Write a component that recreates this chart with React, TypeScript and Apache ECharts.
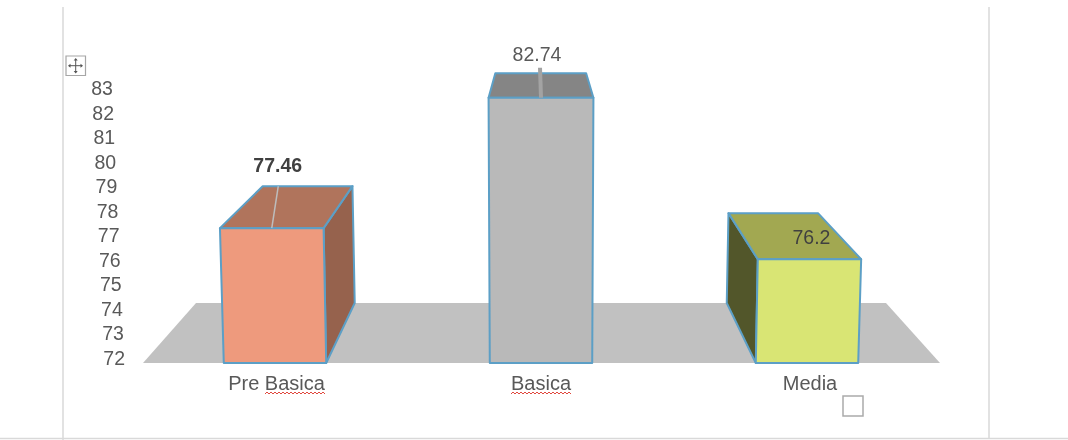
import React, { useEffect, useRef } from "react";
import * as echarts from "echarts";

const categories = ["Pre Basica", "Basica", "Media"];
const values = [77.46, 82.74, 76.2];
const yMin = 72;
const yMax = 83;

const frontColors = ["#EE9A7D", "#B9B9B9", "#D9E574"];
const topColors = ["#B0745C", "#858585", "#A2A851"];
const sideColors = ["#96624D", "#6E6E6E", "#52562A"];
const labelWeights = ["bold", "normal", "normal"];
const labelColors = ["#404040", "#595959", "#404040"];
const labelOffsets = [[6, -63], [-4, -44], [2, -22]];
const leaderOffsets = [[6.5, -42], [-1, -30], null];
const leaderWidths = [1.5, 4, 0];
const categoryPadLeft = [3, 0, 6];

const FONT = '"Liberation Sans", Arial, sans-serif';
const FONT_SIZE = 19.5;
const BORDER = "#5C9FC6";
const VP_X = 539;
const VP_Y = -85;
const DEPTH = 0.866;
const LEAN_X = 541;
const LEAN = 9e-5;

const back = (p: number[]) => [VP_X + DEPTH * (p[0] - VP_X), VP_Y + DEPTH * (p[1] - VP_Y)];
const lean = (x: number, h: number) => LEAN_X + (x - LEAN_X) * (1 + LEAN * h);

const renderBar = (params: any, api: any) => {
  const i = api.value(0);
  const value = api.value(1);
  const [cx, y0] = api.coord([i, yMin]);
  const [, y1] = api.coord([i, value]);
  const half = (api.size([1, 0])[0] * 0.385) / 2;
  const h = y0 - y1;
  const bl = [cx - half, y0];
  const br = [cx + half, y0];
  const tl = [lean(cx - half, h), y1];
  const tr = [lean(cx + half, h), y1];
  const face = (points: number[][], fill: string) => ({
    type: "polygon",
    shape: { points },
    style: { fill, stroke: BORDER, lineWidth: 2, lineJoin: "round" },
  });
  const children: any[] = [];
  if (br[0] < VP_X - half) children.push(face([br, back(br), back(tr), tr], sideColors[i]));
  if (bl[0] > VP_X + half) children.push(face([bl, back(bl), back(tl), tl], sideColors[i]));
  children.push(face([tl, tr, back(tr), back(tl)], topColors[i]));
  children.push(face([bl, br, tr, tl], frontColors[i]));
  const topCx = (tl[0] + tr[0]) / 2;
  const leader = leaderOffsets[i];
  if (leader) {
    children.push({
      type: "line",
      shape: { x1: topCx, y1: y1, x2: topCx + leader[0], y2: y1 + leader[1] },
      style: { stroke: i === 0 ? "#BDBDBD" : "#A3A3A3", lineWidth: leaderWidths[i] },
    });
  }
  children.push({
    type: "text",
    style: {
      text: String(value),
      x: topCx + labelOffsets[i][0],
      y: y1 + labelOffsets[i][1],
      align: "center",
      verticalAlign: "middle",
      fontFamily: FONT,
      fontSize: FONT_SIZE,
      fontWeight: labelWeights[i],
      fill: labelColors[i],
    },
  });
  return { type: "group", children };
};

const squiggle = (x1: number, x2: number, y: number) => {
  const pts: number[][] = [];
  let up = false;
  for (let x = x1; x <= x2; x += 2) {
    pts.push([x, y + (up ? 0 : 2)]);
    up = !up;
  }
  return {
    type: "polyline",
    shape: { points: pts },
    style: { stroke: "#E0483E", lineWidth: 1, fill: "none" },
  };
};

const rule = (x1: number, y1: number, x2: number, y2: number, stroke = "#D9D9D9", lineWidth = 1.5) => ({
  type: "line",
  shape: { x1, y1, x2, y2 },
  style: { stroke, lineWidth },
});

const arrow = (points: number[][]) => ({
  type: "polygon",
  shape: { points },
  style: { fill: "#555555" },
});

const tickRich: Record<string, any> = {};
for (let v = yMin; v <= yMax; v++) {
  const n = v - yMin;
  tickRich["t" + v] = {
    fontFamily: FONT,
    fontSize: FONT_SIZE,
    color: "#595959",
    padding: [0, n * 1.1, 2 * (5 - n * 0.15), 0],
  };
}

const categoryRich: Record<string, any> = {};
categories.forEach((c, i) => {
  categoryRich["c" + i] = {
    fontFamily: FONT,
    fontSize: 20,
    color: "#595959",
    padding: [0, 0, 0, categoryPadLeft[i]],
  };
});

const option = {
  animation: false,
  backgroundColor: "#FFFFFF",
  graphic: [
    rule(63, 7, 63, 440),
    rule(989, 7, 989, 438),
    rule(0, 438.5, 1068, 438.5),
    {
      type: "polygon",
      z: 0,
      shape: { points: [[143, 363], [940, 363], [886, 303], [196, 303]] },
      style: { fill: "#C1C1C1" },
    },
    { type: "rect", shape: { x: 66, y: 56, width: 19.5, height: 19.5 }, style: { fill: "#FFFFFF", stroke: "#A6A6A6", lineWidth: 1.2 } },
    rule(69, 65.7, 82, 65.7, "#555555", 1),
    rule(75.7, 59, 75.7, 72.5, "#555555", 1),
    arrow([[75.7, 58], [73.7, 60.5], [77.7, 60.5]]),
    arrow([[75.7, 73.5], [73.7, 71], [77.7, 71]]),
    arrow([[68, 65.7], [70.5, 63.7], [70.5, 67.7]]),
    arrow([[83, 65.7], [80.5, 63.7], [80.5, 67.7]]),
    { type: "rect", shape: { x: 843, y: 396, width: 20, height: 20 }, style: { fill: "#FFFFFF", stroke: "#ABABAB", lineWidth: 1.5 } },
    squiggle(265, 326, 392),
    squiggle(511, 572, 392),
  ],
  grid: { left: 142, right: 128, top: 91.3, bottom: 77, outerBoundsMode: "none", containLabel: false },
  xAxis: {
    type: "category",
    data: categories,
    axisLine: { show: false },
    axisTick: { show: false },
    axisLabel: {
      margin: 10,
      formatter: (c: string) => `{c${categories.indexOf(c)}|${c}}`,
      rich: categoryRich,
    },
  },
  yAxis: {
    type: "value",
    min: yMin,
    max: yMax,
    interval: 1,
    axisLine: { show: false },
    axisTick: { show: false },
    splitLine: { show: false },
    axisLabel: {
      margin: 17,
      formatter: (v: number) => `{t${v}|${v}}`,
      rich: tickRich,
    },
  },
  series: [
    {
      type: "custom",
      coordinateSystem: "cartesian2d",
      clip: false,
      z: 5,
      encode: { x: 0, y: 1 },
      data: values.map((v, i) => [i, v]),
      renderItem: renderBar,
    },
  ],
};

export default function App() {
  const ref = useRef<HTMLDivElement>(null);
  useEffect(() => {
    const chart = echarts.init(ref.current!, null, { renderer: "svg" });
    chart.setOption(option as any);
    return () => chart.dispose();
  }, []);
  return (
    <div
      ref={ref}
      style={{ position: "absolute", left: 0, top: 0, width: 1068, height: 440, filter: "blur(0.45px)" }}
    />
  );
}
